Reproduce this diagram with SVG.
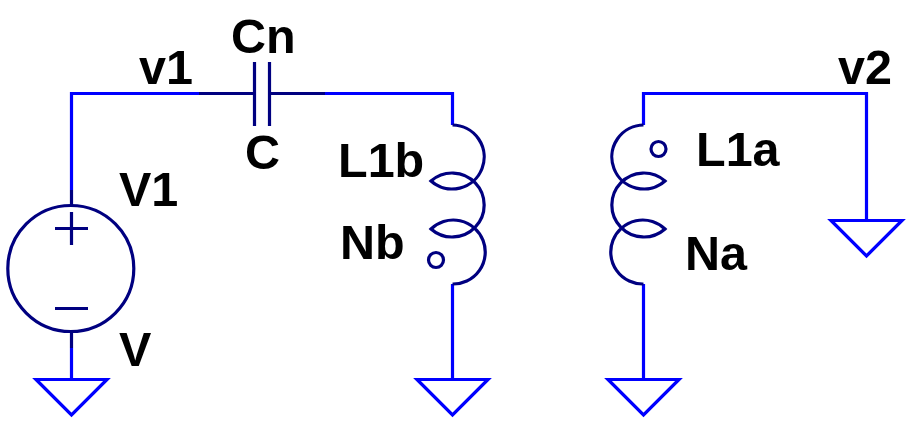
<svg xmlns="http://www.w3.org/2000/svg" width="919" height="428" viewBox="0 0 919 428">
<style>
.w{fill:none;stroke:#0000ff;stroke-width:3.200}
.s{fill:none;stroke:#000080;stroke-width:3.200}
text{font-family:"Liberation Sans",Arial,sans-serif;font-weight:bold;font-size:48.500px;fill:#000}
</style>
<defs>
<g id="gnd"><path class="w" d="M-35.500 0H35.500L0 35.500Z"/></g>
</defs>
<rect width="919" height="428" fill="#fff"/>
<g id="connectors">
<path class="w" d="M71.500 190V93.500H199"/>
<path class="w" d="M325 93.500H452.500V125"/>
<path class="w" d="M452.500 284V379"/>
<path class="w" d="M71.500 348V379"/>
<path class="w" d="M643.500 125V93.500H866.500V220"/>
<path class="w" d="M643.500 284V379"/>
</g>
<g id="V1">
<path class="s" d="M71.500 190V205M71.500 332V348M55 228.500H88M71.500 212V245M55 308.500H88"/>
<circle class="s" cx="70.800" cy="268.500" r="63"/>
<text x="119" y="205.500">V1</text>
<text x="119" y="365.500">V</text>
</g>
<g id="Cn">
<path class="s" d="M199 93.500H254M269 93.500H325M254.500 62V126M269.500 62V126"/>
<text x="231" y="52.500">Cn</text>
<text x="245" y="168.500">C</text>
</g>
<g id="L1b">
<path class="s" d="M452.500 125A32 32 0 1 1 431 181A32 32 0 1 1 431 229A32 32 0 1 1 452.500 284"/>
<circle class="s" cx="436" cy="260" r="7.500"/>
<text x="338" y="176.500">L1b</text>
<text x="340" y="258.500">Nb</text>
</g>
<g id="L1a">
<path class="s" d="M643.500 125A32 32 0 1 0 665 181A32 32 0 1 0 665 229A32 32 0 1 0 643.500 284"/>
<circle class="s" cx="658.500" cy="149" r="7.500"/>
<text x="696" y="165.500">L1a</text>
<text x="685" y="269.500">Na</text>
</g>
<g id="net-v1"><text x="139" y="83.500">v1</text></g>
<g id="net-v2"><text x="838" y="83.500">v2</text></g>
<use id="gnd1" href="#gnd" x="71.500" y="379.500"/>
<use id="gnd2" href="#gnd" x="452.500" y="379.500"/>
<use id="gnd3" href="#gnd" x="643.500" y="379.500"/>
<use id="gnd4" href="#gnd" x="866.500" y="220.500"/>
</svg>
